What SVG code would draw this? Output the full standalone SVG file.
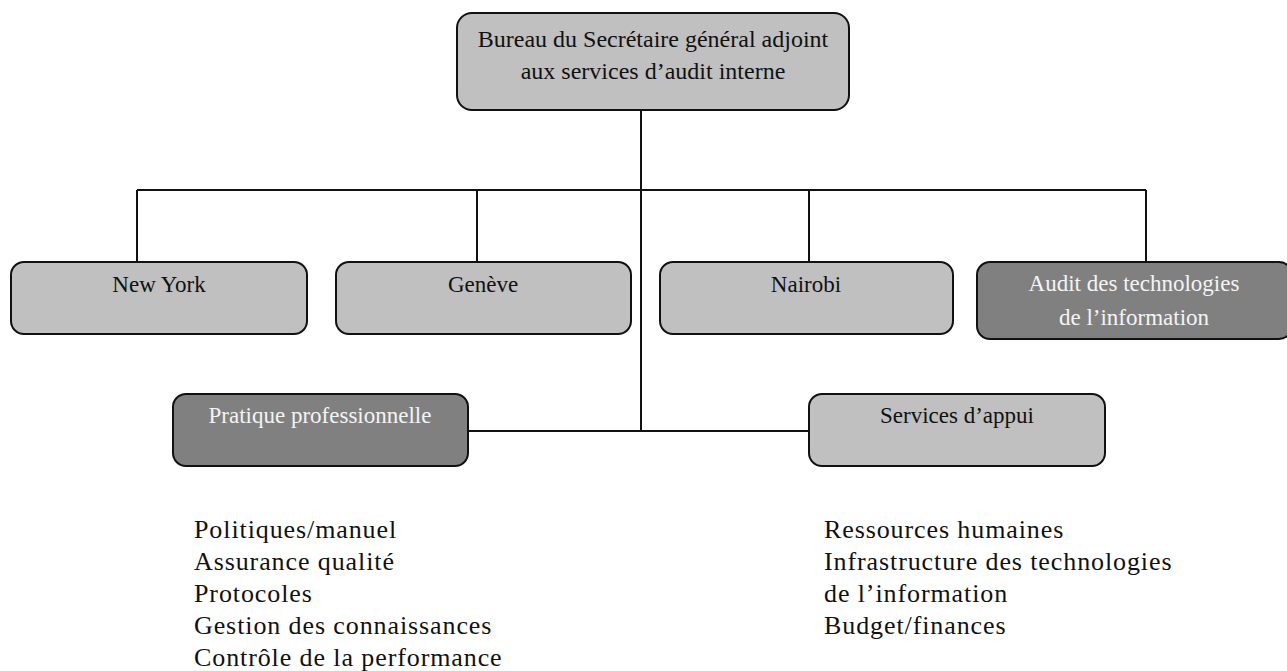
<svg xmlns="http://www.w3.org/2000/svg" width="1287" height="671" viewBox="0 0 1287 671">
<style>
.box{stroke:#111;stroke-width:2}
.light{fill:#c0c0c0}
.dark{fill:#808080}
.lbl{font-family:"Liberation Serif","Times New Roman",serif;font-size:23px;text-anchor:middle;fill:#111}
.wl{fill:#f4f4f4}
.list{font-family:"Liberation Serif","Times New Roman",serif;font-size:26px;letter-spacing:0.9px;fill:#111}
.conn{stroke:#111;stroke-width:2;fill:none}
</style>
<rect width="1287" height="671" fill="#fff"/>
<g id="connectors">
<path class="conn" d="M641 110 V431"/>
<path class="conn" d="M137 190 H1146"/>
<path class="conn" d="M137 190 V262 M477 190 V262 M809 190 V262 M1146 190 V262"/>
<path class="conn" d="M468 431 H809"/>
</g>
<g id="bureau">
<rect class="box light" x="457" y="13" width="392" height="97" rx="15"/>
<text class="lbl" x="653" y="47" style="font-size:24px">Bureau du Secrétaire général adjoint</text>
<text class="lbl" x="653" y="79" style="font-size:24px">aux services d’audit interne</text>
</g>
<g id="newyork">
<rect class="box light" x="11" y="262" width="296" height="72" rx="13"/>
<text class="lbl" x="159" y="292">New York</text>
</g>
<g id="geneve">
<rect class="box light" x="336" y="262" width="295" height="72" rx="13"/>
<text class="lbl" x="483" y="292">Genève</text>
</g>
<g id="nairobi">
<rect class="box light" x="660" y="262" width="293" height="72" rx="13"/>
<text class="lbl" x="806" y="292">Nairobi</text>
</g>
<g id="audit-ti">
<rect class="box dark" x="977" y="262" width="315" height="77" rx="13"/>
<text class="lbl wl" x="1134" y="291">Audit des technologies</text>
<text class="lbl wl" x="1134" y="325">de l’information</text>
</g>
<g id="pratique">
<rect class="box dark" x="173" y="394" width="295" height="72" rx="13"/>
<text class="lbl wl" x="320" y="423">Pratique professionnelle</text>
</g>
<g id="services">
<rect class="box light" x="809" y="394" width="296" height="72" rx="13"/>
<text class="lbl" x="957" y="423">Services d’appui</text>
</g>
<g id="pratique-list">
<text class="list" x="194" y="538">Politiques/manuel</text>
<text class="list" x="194" y="570">Assurance qualité</text>
<text class="list" x="194" y="602">Protocoles</text>
<text class="list" x="194" y="634">Gestion des connaissances</text>
<text class="list" x="194" y="666">Contrôle de la performance</text>
</g>
<g id="services-list">
<text class="list" x="824" y="538">Ressources humaines</text>
<text class="list" x="824" y="570">Infrastructure des technologies</text>
<text class="list" x="824" y="602">de l’information</text>
<text class="list" x="824" y="634">Budget/finances</text>
</g>
</svg>
